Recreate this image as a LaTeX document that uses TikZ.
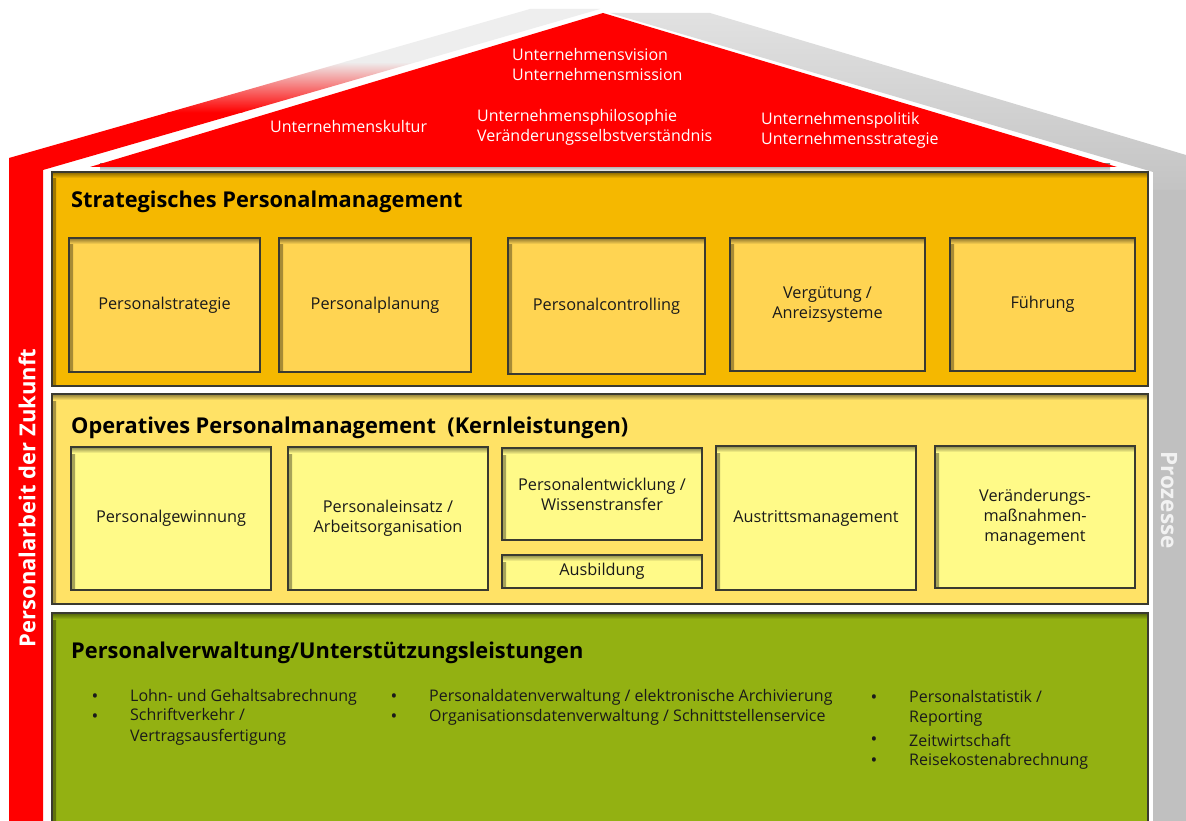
\documentclass[tikz,border=0pt]{standalone}
\usepackage{fontspec}
\setmainfont{Open Sans}
\definecolor{roofred}{HTML}{FF0000}
\definecolor{roofgray}{HTML}{EEEEEE}
\definecolor{procgray}{HTML}{C0C0C0}
\definecolor{procgraylt}{HTML}{E2E2E2}
\definecolor{stratfill}{HTML}{F5B800}
\definecolor{stratbox}{HTML}{FFD452}
\definecolor{operfill}{HTML}{FFE266}
\definecolor{operbox}{HTML}{FFFA88}
\definecolor{verwfill}{HTML}{93B112}
\definecolor{edgecol}{HTML}{3A3A30}
\definecolor{txt}{HTML}{1A1A1A}
\definecolor{proztext}{HTML}{F2F2F2}
\tikzset{
  inset/.style={fill=#1, draw=edgecol, line width=1.1pt, outer sep=0pt, inner sep=2pt,
    anchor=north west, align=center, text=txt,
    font=\fontsize{16.3}{20}\selectfont,
    path picture={
      \shade[left color=#1!65!black, right color=#1]
        (path picture bounding box.north west) rectangle ([xshift=4pt]path picture bounding box.south west);
      \shade[top color=#1!55!black, bottom color=#1]
        (path picture bounding box.north west) rectangle ([yshift=-6pt]path picture bounding box.north east);
    }},
  paneltitle/.style={anchor=west, font=\bfseries\fontsize{21.8}{24}\selectfont, text=black, inner sep=0pt},
  rooftext/.style={anchor=west, align=left, text=white, font=\fontsize{16}{20}\selectfont, inner sep=0pt},
  bul/.style={font=\fontsize{18}{20}\selectfont, text=txt, inner sep=0pt},
  bultext/.style={anchor=west, align=left, font=\fontsize{16}{20.5}\selectfont, text=txt, inner sep=0pt},
}
\begin{document}
\begin{tikzpicture}[x=1pt,y=-1pt]
\useasboundingbox (0,0) rectangle (1186,821);
\clip (0,0) rectangle (1186,821);
\fill[white] (0,0) rectangle (1186,821);

% left roof band and pillar (red fading to light gray)
\begin{scope}
  \clip (9,158) -- (530,9) -- (600,9) -- (43,170) -- (43,821) -- (9,821) -- cycle;
  \fill[roofred] (0,112) rectangle (700,821);
  \shade[top color=roofgray, bottom color=roofred] (0,62) rectangle (700,112.5);
  \fill[roofgray] (0,0) rectangle (700,62.5);
\end{scope}

% right roof band and pillar (gray)
\begin{scope}
  \clip (610,13) -- (710,13) -- (1186,155) -- (1186,821) -- (1153,821) -- (1153,172) -- cycle;
  \shade[top color=procgraylt, bottom color=procgray!95!white] (600,10) rectangle (1186,190.5);
  \fill[procgray] (600,190) rectangle (1186,821);
\end{scope}

% shadow under the roof triangle
\shade[top color=black!45, bottom color=white] (100,164) rectangle (1110,172);
% red roof triangle
\fill[roofred] (90,167) -- (603,13) -- (1117,167) -- cycle;

% roof texts
\node[rooftext] (vis) at (512,64.5) {Unternehmensvision\\Unternehmensmission};
\node[rooftext] (kult) at (270,127) {Unternehmenskultur};
\node[rooftext] (phil) at (477,127) {Unternehmensphilosophie\\Veränderungsselbstverständnis};
\node[rooftext] (pol) at (761,130) {Unternehmenspolitik\\Unternehmensstrategie};

% pillar texts
\node[rotate=90, text=white, font=\bfseries\fontsize{22}{24}\selectfont, inner sep=0pt] (zuk) at (27,498) {Personalarbeit der Zukunft};
\node[rotate=-90, text=proztext, font=\bfseries\fontsize{22.5}{24}\selectfont, inner sep=0pt] (proz) at (1169,500) {Prozesse};

% main panels
\node[inset=stratfill, minimum width=1096pt, minimum height=214pt] (strat) at (52,172) {};
\node[inset=operfill, minimum width=1096pt, minimum height=210pt] (oper) at (52,394) {};
\node[inset=verwfill, minimum width=1096pt, minimum height=230pt] (verw) at (52,613) {};

\node[paneltitle] (tstrat) at (71,201.5) {Strategisches Personalmanagement};
\node[paneltitle] (toper) at (71,427.5) {Operatives Personalmanagement\ \ (Kernleistungen)};
\node[paneltitle] (tverw) at (71,652.5) {Personalverwaltung/Unterstützungsleistungen};

% strategic boxes
\node[inset=stratbox, minimum width=191pt, minimum height=134pt] (s1) at (69,238) {Personalstrategie};
\node[inset=stratbox, minimum width=192pt, minimum height=134pt] (s2) at (279,238) {Personalplanung};
\node[inset=stratbox, minimum width=197pt, minimum height=136pt] (s3) at (508,238) {Personalcontrolling};
\node[inset=stratbox, minimum width=195pt, minimum height=133pt] (s4) at (730,238) {Vergütung /\\Anreizsysteme};
\node[inset=stratbox, minimum width=185pt, minimum height=133pt] (s5) at (950,238) {Führung};

% operative boxes
\node[inset=operbox, minimum width=200pt, minimum height=143pt] (o1) at (71,447) {Personalgewinnung};
\node[inset=operbox, minimum width=200pt, minimum height=143pt] (o2) at (288,447) {Personaleinsatz /\\Arbeitsorganisation};
\node[inset=operbox, minimum width=200pt, minimum height=92pt] (o3) at (502,448) {Personalentwicklung /\\Wissenstransfer};
\node[inset=operbox, minimum width=200pt, minimum height=33pt] (o4) at (502,555) {Ausbildung};
\node[inset=operbox, minimum width=200pt, minimum height=144pt] (o5) at (716,446) {Austrittsmanagement};
\node[inset=operbox, minimum width=200pt, minimum height=142pt] (o6) at (935,446) {Veränderungs-\\maßnahmen-\\management};

% bullet lists
\node[bul] (b11) at (95,698) {•};
\node[bul] (b12) at (95,718) {•};
\node[bultext] (l11) at (130,697) {Lohn- und Gehaltsabrechnung};
\node[bultext] (l12) at (130,727) {Schriftverkehr /\\Vertragsausfertigung};

\node[bul] (b21) at (394,698) {•};
\node[bul] (b22) at (394,718) {•};
\node[bultext] (l21) at (429,697) {Personaldatenverwaltung / elektronische Archivierung};
\node[bultext] (l22) at (429,717) {Organisationsdatenverwaltung / Schnittstellenservice};

\node[bul] (b31) at (874,699) {•};
\node[bul] (b32) at (874,741) {•};
\node[bul] (b33) at (874,762) {•};
\node[bultext] (l31) at (909,708.5) {Personalstatistik /\\Reporting};
\node[bultext] (l32) at (909,740) {Zeitwirtschaft};
\node[bultext] (l33) at (909,761) {Reisekostenabrechnung};
\end{tikzpicture}
\end{document}
